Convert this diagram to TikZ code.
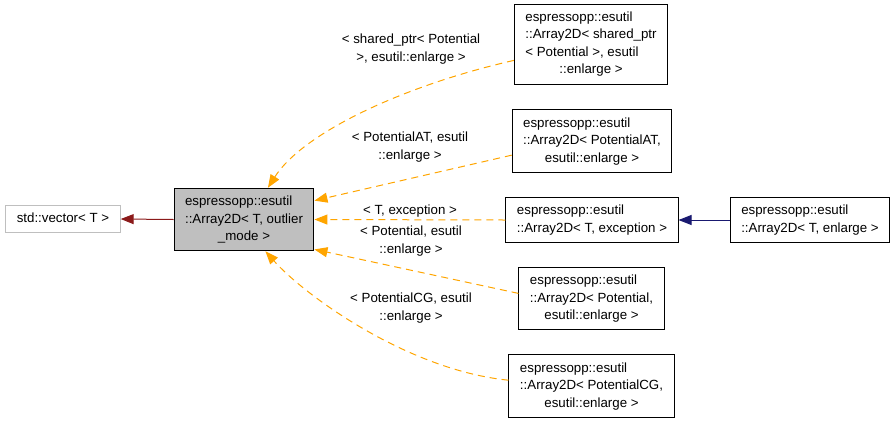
\documentclass[tikz,border=0pt]{standalone}
\usepackage{fontspec}
\setmainfont{Liberation Sans}
\usepackage{tikz}
\usetikzlibrary{arrows.meta}
\definecolor{tmplorange}{HTML}{FFA500}
\definecolor{basered}{HTML}{8B1A1A}
\definecolor{derivblue}{HTML}{191970}
\definecolor{boxgray}{HTML}{BFBFBF}
\newcommand{\rows}[1]{\begin{tabular}{@{}l@{}}#1\end{tabular}}
\newcommand{\lastrow}[1]{\multicolumn{1}{@{}c@{}}{#1}}
\tikzstyle{cls} = [draw, line width=1pt, inner xsep=11pt, inner ysep=5pt, font=\fontsize{13.3}{17.5}\selectfont]
\tikzstyle{ext} = [cls, draw=boxgray]
\tikzstyle{cur} = [cls, fill=boxgray]
\tikzstyle{lbl} = [align=center, inner sep=0pt, font=\fontsize{13.3}{18}\selectfont]
\tikzstyle{tmpl} = [draw=tmplorange, line width=1pt, dash pattern=on 7pt off 5pt, -{Triangle[length=13pt,width=10pt]}]
\tikzstyle{base} = [draw=basered, line width=1pt, -{Triangle[length=13pt,width=10pt]}]
\tikzstyle{deriv} = [draw=derivblue, line width=1pt, -{Triangle[length=13pt,width=10pt]}]

\begin{document}
\begin{tikzpicture}[x=1pt, y=-1pt]
    \useasboundingbox (0,0) rectangle (896,424);
    \node (vec) [ext] at (63,219) {\rows{std::vector< T >}};
    \node (main) [cur] at (244,219.5) {\rows{espressopp::esutil\\::Array2D< T, outlier\\\lastrow{\_mode >}}};
    \node (sp) [cls] at (591,44) {\rows{espressopp::esutil\\::Array2D< shared\_ptr\\< Potential >, esutil\\\lastrow{::enlarge >}}};
    \node (at) [cls] at (592,141) {\rows{espressopp::esutil\\::Array2D< PotentialAT,\\\lastrow{esutil::enlarge >}}};
    \node (exc) [cls] at (592,220) {\rows{espressopp::esutil\\::Array2D< T, exception >}};
    \node (enl) [cls] at (810,220) {\rows{espressopp::esutil\\::Array2D< T, enlarge >}};
    \node (pot) [cls] at (591.5,298.5) {\rows{espressopp::esutil\\::Array2D< Potential,\\\lastrow{esutil::enlarge >}}};
    \node (cg) [cls] at (591.5,386) {\rows{espressopp::esutil\\::Array2D< PotentialCG,\\\lastrow{esutil::enlarge >}}};
    \node (lsp) [lbl] at (411,49) {< shared\_ptr< Potential\\>, esutil::enlarge >};
    \node (lat) [lbl] at (410,147) {< PotentialAT, esutil\\::enlarge >};
    \node (lexc) [lbl] at (410,211) {< T, exception >};
    \node (lpot) [lbl] at (411,241) {< Potential, esutil\\::enlarge >};
    \node (lcg) [lbl] at (411,308.5) {< PotentialCG, esutil\\::enlarge >};
    \draw[base] (main.west) -- (vec.east);
    \draw[deriv] (enl.west) -- (exc.east);
    \draw[tmpl] (sp.192) .. controls +(-110,25) and +(35,-55) .. (main.53);
    \draw[tmpl] (at.190) -- (main.15);
    \draw[tmpl] (exc.west) -- (main.east);
    \draw[tmpl] (pot.176) -- (main.-23);
    \draw[tmpl] (cg.176) .. controls +(-100,-10) and +(40,45) .. (main.-56);
\end{tikzpicture}
\end{document}
